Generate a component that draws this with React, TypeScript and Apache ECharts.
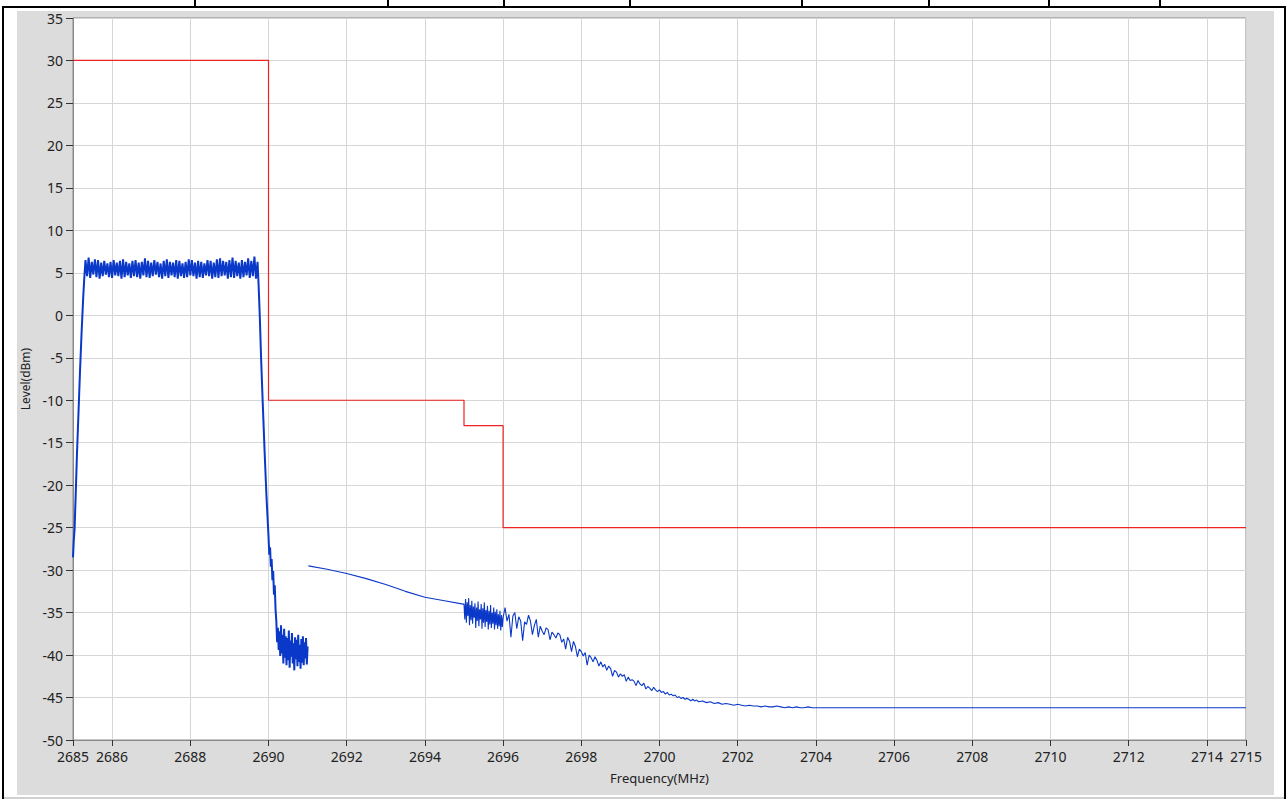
import React, { useEffect, useRef } from "react";
import * as echarts from "echarts";

// ---------- axis ----------
const freqMin = 2685;
const freqMax = 2715;
const freqTickValues = [2685, 2686, 2688, 2690, 2692, 2694, 2696, 2698, 2700, 2702, 2704, 2706, 2708, 2710, 2712, 2714, 2715];
const levelMin = -50;
const levelMax = 35;
const levelInterval = 5;

// ---------- limit mask (red) ----------
const maskFreq = [2685, 2690, 2690, 2695, 2695, 2696, 2696, 2715];
const maskLevel = [30, 30, -10, -10, -13, -13, -25, -25];

// ---------- measured trace (blue) ----------
const riseEdge: [number, number][] = [
  [2685.0, -28.5], [2685.02, -26.5], [2685.04, -25.2], [2685.07, -21], [2685.1, -16.5],
  [2685.14, -11.5], [2685.18, -6.5], [2685.22, -2], [2685.26, 2], [2685.29, 4.5],
];

const bandStart = 2685.32;
const bandStep = 0.04;
const bandLevels = [
  6.5, 4.6, 6.8, 4.4, 6.3, 4.8, 6.6, 4.5, 6.5, 4.3, 6.2, 4.6, 6.4, 4.8, 6.1, 4.5,
  6.3, 4.4, 6.5, 4.7, 6.2, 4.6, 6.4, 4.3, 6.6, 4.5, 6.3, 4.7, 6.1, 4.4, 6.4, 4.6,
  6.5, 4.5, 6.2, 4.3, 6.3, 4.7, 6.7, 4.5, 6.4, 4.4, 6.2, 4.6, 6.5, 4.8, 6.3, 4.5,
  6.1, 4.3, 6.4, 4.6, 6.6, 4.4, 6.3, 4.7, 6.2, 4.5, 6.5, 4.3, 6.4, 4.6, 6.1, 4.4,
  6.3, 4.5, 6.6, 4.7, 6.5, 4.6, 6.2, 4.3, 6.4, 4.5, 6.3, 4.4, 6.1, 4.7, 6.5, 4.6,
  6.4, 4.3, 6.2, 4.5, 6.6, 4.4, 6.7, 4.6, 6.4, 4.7, 6.3, 4.3, 6.5, 4.5, 6.8, 4.4,
  6.4, 4.6, 6.2, 4.3, 6.5, 4.5, 6.3, 4.7, 6.7, 4.4, 6.4, 4.6, 6.9, 4.3, 6.3,
];

const fallEdge: [number, number][] = [
  [2689.75, 3.2], [2689.78, -0.5], [2689.81, -5], [2689.85, -10], [2689.9, -16],
  [2689.95, -21.5], [2690.0, -26], [2690.02, -28.2], [2690.04, -27.3], [2690.06, -29.6],
  [2690.08, -28.7], [2690.1, -31.2], [2690.12, -30.1], [2690.14, -32.9], [2690.16, -31.8],
  [2690.18, -34.6],
];

const floorStart = 2690.2;
const floorStep = 0.02;
const floorLevels = [
  -36.0, -38.5, -36.8, -39.4, -37.2, -40.1, -36.5, -39.8, -37.6, -41.0, -36.9, -40.3,
  -37.8, -41.2, -38.0, -40.6, -37.1, -41.5, -38.3, -40.2, -37.4, -41.0, -38.6, -41.8,
  -37.9, -40.5, -38.2, -41.3, -37.6, -40.8, -38.8, -41.6, -38.1, -40.9, -37.8, -41.2,
  -38.5, -40.4, -38.0, -41.1, -39.0,
];

const leakLine: [number, number][] = [
  [2691.02, -29.5], [2691.5, -29.9], [2692.0, -30.4], [2692.5, -31.0], [2693.0, -31.7],
  [2693.5, -32.5], [2694.0, -33.2], [2694.5, -33.6], [2694.98, -34.0],
];

const burstStart = 2695.0;
const burstStep = 0.02;
const burstLevels = [
  -34.0, -35.8, -33.4, -36.2, -33.8, -35.4, -33.3, -36.5, -34.1, -35.9, -33.6, -36.3,
  -34.3, -35.6, -33.9, -36.8, -34.4, -36.0, -33.7, -36.6, -34.6, -35.8, -34.0, -36.9,
  -34.5, -36.2, -33.8, -36.7, -34.7, -36.1, -34.2, -37.0, -34.8, -36.4, -34.1, -36.8,
  -35.0, -36.3, -34.4, -37.0, -34.9, -36.5, -34.6, -36.9, -35.2, -36.6, -34.8, -37.1,
  -35.3, -36.7,
];

const decayStart = 2696.0;
const decayStep = 0.05;
const decayLevels = [
  -35.6, -34.4, -36.0, -35.2, -37.9, -35.4, -35.0, -36.9, -35.5, -36.0,
  -38.3, -36.1, -36.4, -35.3, -36.0, -37.6, -36.5, -35.8, -37.9, -36.6,
  -37.2, -37.6, -36.8, -37.0, -38.2, -37.3, -37.6, -38.0, -37.4, -37.6,
  -38.5, -38.1, -39.3, -37.9, -38.4, -39.6, -38.4, -39.0, -40.2, -39.3,
  -39.6, -40.1, -39.7, -41.2, -40.0, -40.3, -40.8, -40.2, -40.6, -41.3,
  -40.8, -41.4, -41.1, -41.8, -41.3, -41.6, -42.5, -41.8, -42.0, -42.6,
  -42.2, -42.5, -42.3, -43.1, -42.6, -43.0, -42.9, -43.1, -43.6, -43.0,
  -43.4, -43.6, -43.3, -44.0, -43.7, -43.9, -44.2, -43.8, -44.1, -44.3,
  -44.1, -44.4, -44.3, -44.6, -44.4, -44.7, -44.6, -44.8, -44.7, -45.0,
  -44.9, -45.1, -45.0, -45.2, -45.1, -45.2, -45.4, -45.2, -45.4, -45.3,
  -45.5,
];

const tailStart = 2701.1;
const tailStep = 0.1;
const tailLevels = [
  -45.4, -45.6, -45.5, -45.7, -45.6, -45.8, -45.7, -45.8, -45.9, -45.8,
  -45.9, -46.0, -45.9, -46.0, -46.0, -46.1, -46.0, -46.1, -46.1, -46.0,
  -46.1, -46.2, -46.1, -46.2, -46.1, -46.2, -46.2, -46.1, -46.2, -46.2,
];

const flatLine: [number, number][] = [
  [2705, -46.2], [2707, -46.2], [2709, -46.2], [2711, -46.2], [2713, -46.2], [2715, -46.2],
];

// ---------- page frame ----------
const cellSeparatorsX = [194, 387, 503, 629, 801, 928, 1048, 1159];

function sweep(start: number, step: number, levels: number[]): [number, number][] {
  return levels.map((v, i) => [Number((start + i * step).toFixed(3)), v]);
}

export default function App() {
  const ref = useRef<HTMLDivElement>(null);

  useEffect(() => {
    if (!ref.current) return;
    const chart = echarts.init(ref.current, null, { renderer: "svg" });

    const mainTrace = [
      ...riseEdge,
      ...sweep(bandStart, bandStep, bandLevels),
      ...fallEdge,
      ...sweep(floorStart, floorStep, floorLevels),
    ];
    const leakTrace = [
      ...leakLine,
      ...sweep(burstStart, burstStep, burstLevels),
      ...sweep(decayStart, decayStep, decayLevels),
      ...sweep(tailStart, tailStep, tailLevels),
      ...flatLine,
    ];
    const mask = maskFreq.map((f, i) => [f, maskLevel[i]]);

    const font = "'Noto Sans', 'Open Sans', sans-serif";
    const blue = "#0a38c8";

    const graphic: any[] = [
      { type: "rect", z: -10, shape: { x: 17, y: 11, width: 1257, height: 784 }, style: { fill: "#dcdcdc" }, silent: true },
      { type: "rect", z: -9, shape: { x: 2, y: 6, width: 2, height: 793 }, style: { fill: "#000" }, silent: true },
      { type: "rect", z: -9, shape: { x: 1284, y: 6, width: 2, height: 793 }, style: { fill: "#000" }, silent: true },
      { type: "rect", z: -9, shape: { x: 2, y: 6, width: 1284, height: 2 }, style: { fill: "#000" }, silent: true },
      { type: "rect", z: -9, shape: { x: 4, y: 797, width: 1280, height: 2 }, style: { fill: "#d0d0d0" }, silent: true },
      ...cellSeparatorsX.map((x) => ({
        type: "rect", z: -9, shape: { x, y: 0, width: 2, height: 7 }, style: { fill: "#000" }, silent: true,
      })),
    ];

    chart.setOption({
      animation: false,
      backgroundColor: "#ffffff",
      graphic,
      grid: {
        left: 73, top: 18, right: 42, bottom: 59,
        show: true, backgroundColor: "#ffffff", borderColor: "#8a8a8a", borderWidth: 1,
        containLabel: false, outerBoundsMode: "none",
      },
      xAxis: {
        type: "value",
        min: freqMin,
        max: freqMax,
        name: "Frequency(MHz)",
        nameLocation: "middle",
        nameGap: 31,
        nameTextStyle: { color: "#222", fontSize: 13, fontFamily: font },
        axisLine: { show: true, onZero: false, lineStyle: { color: "#8a8a8a", width: 1 } },
        axisTick: { show: true, length: 6, customValues: freqTickValues, lineStyle: { color: "#333" } },
        axisLabel: {
          customValues: freqTickValues, color: "#222", fontSize: 14, fontFamily: font, margin: 9,
          hideOverlap: false, formatter: (v: number) => String(v),
        },
        splitLine: { show: true, lineStyle: { color: "#d6d6d6", width: 1 } },
      },
      yAxis: {
        type: "value",
        min: levelMin,
        max: levelMax,
        interval: levelInterval,
        name: "Level(dBm)",
        nameLocation: "middle",
        nameGap: 40,
        nameRotate: 90,
        nameTextStyle: { color: "#222", fontSize: 12, fontFamily: font },
        axisLine: { show: true, onZero: false, lineStyle: { color: "#8a8a8a", width: 1 } },
        axisTick: { show: true, length: 7, lineStyle: { color: "#333" } },
        axisLabel: { color: "#222", fontSize: 14, fontFamily: font, margin: 10 },
        splitLine: { show: true, lineStyle: { color: "#d6d6d6", width: 1 } },
      },
      series: [
        {
          name: "Limit",
          type: "line",
          data: mask,
          showSymbol: false,
          lineStyle: { color: "#ee2222", width: 1.2 },
          z: 3,
        },
        {
          name: "Trace",
          type: "line",
          data: mainTrace,
          showSymbol: false,
          lineStyle: { color: blue, width: 2 },
          z: 4,
        },
        {
          name: "Trace2",
          type: "line",
          data: leakTrace,
          showSymbol: false,
          lineStyle: { color: blue, width: 1.1 },
          z: 4,
        },
      ],
    } as any);

    return () => chart.dispose();
  }, []);

  return (
    <div
      ref={ref}
      style={{ position: "fixed", left: 0, top: 0, width: 1288, height: 799 }}
    />
  );
}
